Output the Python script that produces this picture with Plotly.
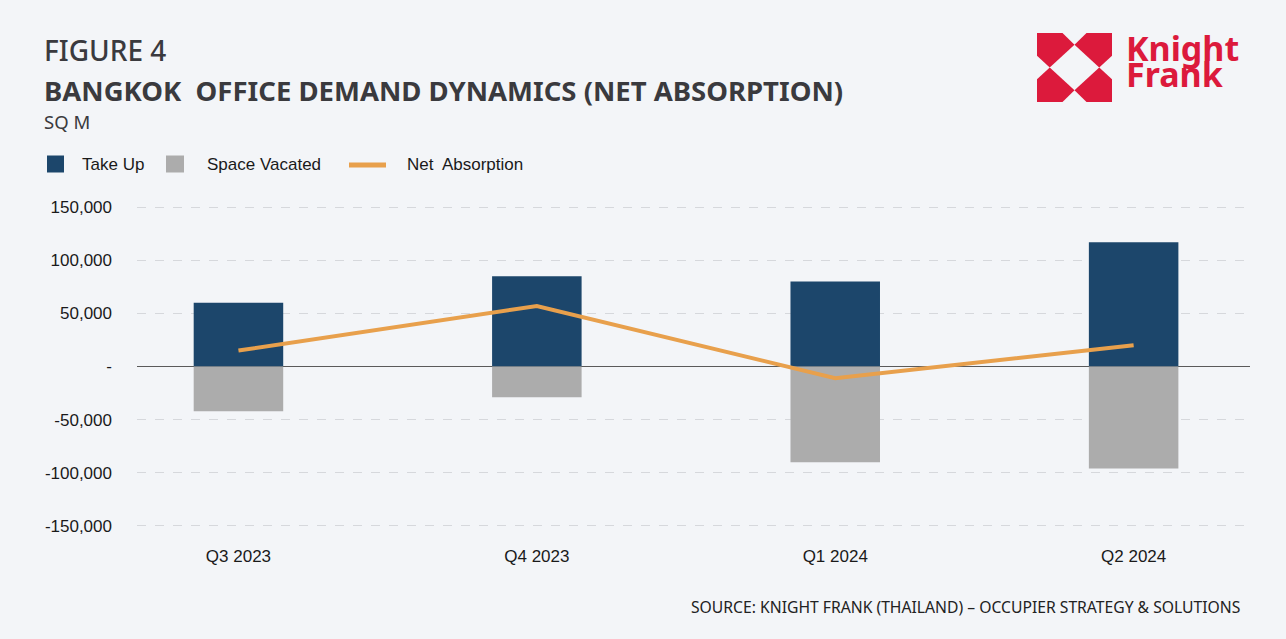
import plotly.graph_objects as go

# ---- data ----
quarters = ["Q3 2023", "Q4 2023", "Q1 2024", "Q2 2024"]
take_up = [60000, 85000, 80000, 117000]
space_vacated = [-42000, -29000, -90000, -96000]
net_absorption = [15000, 57000, -11000, 20000]
y_tick_vals = [-150000, -100000, -50000, 0, 50000, 100000, 150000]
y_tick_text = ["-150,000", "-100,000", "-50,000", "-", "50,000", "100,000", "150,000"]
series_names = ["Take Up", "Space Vacated", "Net  Absorption"]

# ---- layout geometry (pixels) ----
W, H = 1286, 639
ML, MR, MT, MB = 137, 36, 205, 111
PW, PH = W - ML - MR, H - MT - MB


def px(x):
    return (x - ML) / PW


def py(y):
    return (H - MB - y) / PH


BG = "#f3f5f8"
NAVY = "#1c466b"
GREY = "#acacac"
ORANGE = "#e8a04c"
RED = "#dc1a3c"
TXT = "#3a3a3e"
AX_FONT = "Liberation Sans, Arial, sans-serif"

fig = go.Figure()
fig.add_trace(go.Bar(x=quarters, y=take_up, name=series_names[0], marker_color=NAVY,
                     width=0.3, marker_line_width=0, showlegend=False))
fig.add_trace(go.Bar(x=quarters, y=space_vacated, name=series_names[1], marker_color=GREY,
                     width=0.3, marker_line_width=0, showlegend=False))
fig.add_trace(go.Scatter(x=quarters, y=net_absorption, name=series_names[2], mode="lines",
                         line=dict(color=ORANGE, width=4), showlegend=False))

fig.update_layout(
    width=W, height=H,
    margin=dict(l=ML, r=MR, t=MT, b=MB),
    paper_bgcolor=BG, plot_bgcolor=BG,
    barmode="relative",
    font=dict(family=AX_FONT, size=17, color="#1a1a1a"),
    showlegend=False,
)
fig.update_xaxes(range=[-0.34, 3.39], showgrid=False, showline=False, ticks="",
                 zeroline=False, ticklabelstandoff=16, tickfont=dict(size=17))
fig.update_yaxes(range=[-152000, 152000], tickvals=y_tick_vals, ticktext=y_tick_text,
                 showgrid=True, gridcolor="#d6d8dc", griddash="dash", gridwidth=1,
                 zeroline=True, zerolinecolor="#5a5a5a", zerolinewidth=1,
                 showline=False, ticks="", ticklabelstandoff=24, tickfont=dict(size=17))

# ---- manual legend ----
leg_y = 164
fig.add_shape(type="rect", xref="paper", yref="paper", x0=px(47), x1=px(64),
              y0=py(leg_y + 8.5), y1=py(leg_y - 8.5), fillcolor=NAVY, line_width=0)
fig.add_shape(type="rect", xref="paper", yref="paper", x0=px(166), x1=px(184),
              y0=py(leg_y + 8.5), y1=py(leg_y - 8.5), fillcolor=GREY, line_width=0)
fig.add_shape(type="line", xref="paper", yref="paper", x0=px(349), x1=px(386),
              y0=py(leg_y + 1), y1=py(leg_y + 1), line=dict(color=ORANGE, width=5))
for name, lx in zip(series_names, [80, 205, 405]):
    fig.add_annotation(text=name, xref="paper", yref="paper", x=px(lx), y=py(leg_y),
                       xanchor="left", yanchor="middle", showarrow=False,
                       font=dict(family=AX_FONT, size=17, color="#1a1a1a"))

# ---- titles ----
fig.add_annotation(text="FIGURE 4", xref="paper", yref="paper", x=px(42), y=py(50),
                   xanchor="left", yanchor="middle", showarrow=False,
                   font=dict(family="Noto Sans", size=28, weight=500, color=TXT))
fig.add_annotation(text="<b>BANGKOK  OFFICE DEMAND DYNAMICS (NET ABSORPTION)</b>", xref="paper",
                   yref="paper", x=px(42), y=py(91), xanchor="left", yanchor="middle",
                   showarrow=False, font=dict(family="Noto Sans", size=27.5, color=TXT))
fig.add_annotation(text="SQ M", xref="paper", yref="paper", x=px(42), y=py(122),
                   xanchor="left", yanchor="middle", showarrow=False,
                   font=dict(family="Noto Sans", size=18.5, color=TXT))
fig.add_annotation(text="SOURCE: KNIGHT FRANK (THAILAND) – OCCUPIER STRATEGY & SOLUTIONS",
                   xref="paper", yref="paper", x=px(1242), y=py(607), xanchor="right",
                   yanchor="middle", showarrow=False,
                   font=dict(family="Noto Sans", size=15.7, color="#222222"))

# ---- logo ----
LX0, LY0, LW, LH = 1037, 33, 75, 69


def logo_pt(u, v):
    return px(LX0 + u * LW), py(LY0 + v * LH)


a, b, c = 0.34, 0.17, 0.33
base = [(0, 0), (a, 0), (0.5, b), (b, 0.5), (0, c)]
for fx, fy in [(False, False), (True, False), (False, True), (True, True)]:
    pts = []
    for (u, v) in base:
        uu = 1 - u if fx else u
        vv = 1 - v if fy else v
        pts.append(logo_pt(uu, vv))
    path = "M " + " L ".join(f"{x:.5f},{y:.5f}" for x, y in pts) + " Z"
    fig.add_shape(type="path", path=path, xref="paper", yref="paper",
                  fillcolor=RED, line_width=0, layer="above")

fig.add_annotation(text="<b>Knight</b>", xref="paper", yref="paper", x=px(1124), y=py(48),
                   xanchor="left", yanchor="middle", showarrow=False,
                   font=dict(family="Noto Sans", size=34, color=RED))
fig.add_annotation(text="<b>Frank</b>", xref="paper", yref="paper", x=px(1124), y=py(74),
                   xanchor="left", yanchor="middle", showarrow=False,
                   font=dict(family="Noto Sans", size=34, color=RED))

fig.write_html("out.html", config={"displayModeBar": False},
               post_script="document.body.style.margin='0px';document.body.style.overflow='hidden';")
